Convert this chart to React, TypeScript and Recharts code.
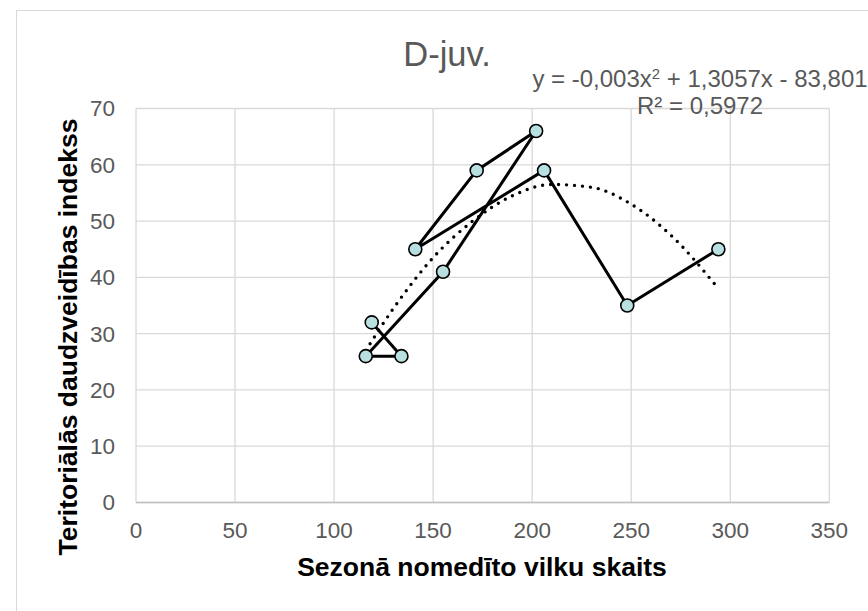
import {
  CartesianGrid,
  ComposedChart,
  Line,
  Scatter,
  XAxis,
  YAxis,
} from "recharts";

// wolves hunted in season vs territorial diversity index (order as in the source)
const huntedWolves = [119, 134, 116, 155, 202, 172, 141, 206, 248, 294];
const diversityIndex = [32, 26, 26, 41, 66, 59, 45, 59, 35, 45];

// polynomial trendline
const trendX = [116, 130, 150, 170, 190, 210, 230, 250, 270, 294];
const trendY = [27, 34.5, 43.5, 50, 54.5, 56.5, 56, 53, 47.5, 38];

const xTicks = [0, 50, 100, 150, 200, 250, 300, 350];
const yTicks = [0, 10, 20, 30, 40, 50, 60, 70];

const chartTitle = "D-juv.";
const equation = "y = -0,003x";
const equationRest = " + 1,3057x - 83,801";
const rSquared = "R² = 0,5972";
const xTitle = "Sezonā nomedīto vilku skaits";
const yTitle = "Teritoriālās daudzveidības indekss";

const seriesData = huntedWolves.map((x, i) => ({ x, y: diversityIndex[i] }));
const trendData = trendX.map((x, i) => ({ x, y: trendY[i] }));

const FONT = '"Liberation Sans", Arial, sans-serif';
const GRAY = "#595959";

function Marker(props: any) {
  const { cx, cy } = props;
  if (cx == null || cy == null) return null;
  return <circle cx={cx} cy={cy} r={6.5} fill="#b9e0e0" stroke="#000" strokeWidth={1.6} />;
}

export default function App() {
  return (
    <div
      style={{
        position: "absolute",
        left: 0,
        top: 0,
        width: 868,
        height: 611,
        overflow: "hidden",
        background: "#fff",
        fontFamily: FONT,
      }}
    >
      <div
        style={{
          position: "absolute",
          left: 16,
          top: 10,
          width: 1000,
          height: 800,
          border: "1.5px solid #d9d9d9",
        }}
      />
      <ComposedChart
        width={868}
        height={611}
        margin={{ top: 108.5, right: 38.7, left: 0, bottom: 68.5 }}
        style={{ position: "absolute", left: 0, top: 0 }}
      >
        <CartesianGrid stroke="#d9d9d9" strokeWidth={1.3} />
        <XAxis
          dataKey="x"
          type="number"
          domain={[0, 350]}
          ticks={xTicks}
          height={40}
          tickLine={false}
          tickSize={0}
          tickMargin={20}
          axisLine={{ stroke: "#bfbfbf", strokeWidth: 1.5 }}
          tick={{ fill: GRAY, fontSize: 22.5, fontFamily: FONT }}
        />
        <YAxis
          dataKey="y"
          type="number"
          domain={[0, 70]}
          ticks={yTicks}
          width={136}
          tickLine={false}
          tickSize={0}
          tickMargin={21}
          axisLine={false}
          tick={{ fill: GRAY, fontSize: 22.5, fontFamily: FONT }}
        />
        <Line
          data={trendData}
          dataKey="y"
          type="monotone"
          stroke="#000"
          strokeWidth={3.4}
          strokeDasharray="0 8"
          strokeLinecap="round"
          dot={false}
          activeDot={false}
          isAnimationActive={false}
        />
        <Scatter
          data={seriesData}
          dataKey="y"
          fill="#000"
          line={{ stroke: "#000", strokeWidth: 3 }}
          lineType="joint"
          shape={<Marker />}
          isAnimationActive={false}
        />
      </ComposedChart>

      <div
        style={{
          position: "absolute",
          left: 347,
          width: 200,
          top: 34,
          textAlign: "center",
          fontSize: 34.5,
          color: GRAY,
          lineHeight: "40px",
        }}
      >
        {chartTitle}
      </div>
      <div
        style={{
          position: "absolute",
          left: 500,
          width: 400,
          top: 66,
          textAlign: "center",
          fontSize: 24,
          color: GRAY,
          lineHeight: "26.6px",
          whiteSpace: "pre",
        }}
      >
        <div>
          {equation}
          <sup style={{ fontSize: "0.62em", verticalAlign: "0.55em", lineHeight: 0 }}>2</sup>
          {equationRest}
        </div>
        <div>{rSquared}</div>
      </div>
      <div
        style={{
          position: "absolute",
          left: 182,
          width: 600,
          top: 552,
          textAlign: "center",
          fontSize: 26.5,
          fontWeight: "bold",
          color: "#000",
          lineHeight: "30px",
          whiteSpace: "nowrap",
        }}
      >
        {xTitle}
      </div>
      <div
        style={{
          position: "absolute",
          left: 68 - 300,
          width: 600,
          top: 337 - 15,
          textAlign: "center",
          fontSize: 26.5,
          fontWeight: "bold",
          color: "#000",
          lineHeight: "30px",
          whiteSpace: "nowrap",
          transform: "rotate(-90deg)",
        }}
      >
        {yTitle}
      </div>
    </div>
  );
}
